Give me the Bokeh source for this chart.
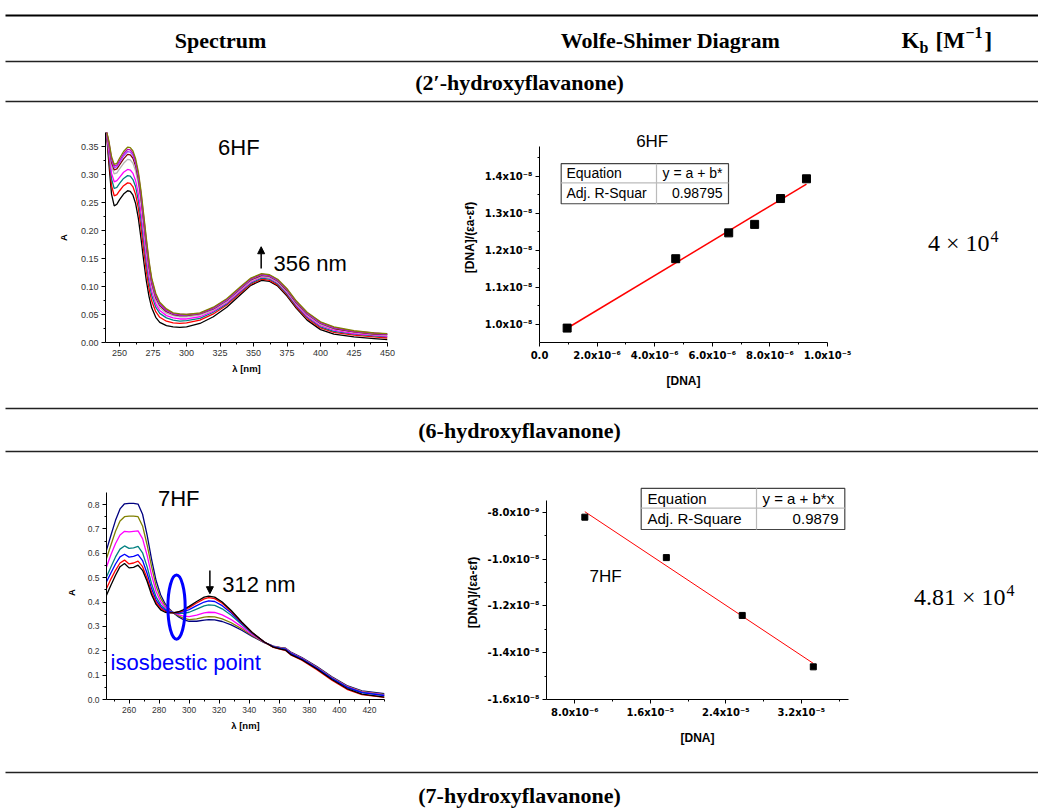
import numpy as np
from bokeh.plotting import figure
from bokeh.layouts import column, row
from bokeh.models import Range1d, FixedTicker, CustomJSTickFormatter, NumeralTickFormatter, Arrow, NormalHead
from bokeh.core.properties import value
from bokeh.embed import file_html
from bokeh.resources import INLINE

SANS = "Liberation Sans"
SERIF = "Liberation Serif"
TICKSANS = "DejaVu Sans"

# ---------------- data ----------------
col_headers = ["Spectrum", "Wolfe-Shimer Diagram"]
kb_header = ["K", "b", "[M", "\u22121", "]"]
compound_labels = ["(2\u2032-hydroxyflavanone)", "(6-hydroxyflavanone)", "(7-hydroxyflavanone)"]
kb_mantissa = ["4 \u00d7 10", "4.81 \u00d7 10"]
kb_exponent = ["4", "4"]

# 6HF UV-Vis titration spectra (absorbance vs wavelength)
wl_6hf = [240, 242, 244, 246, 248, 250, 253, 256, 258, 260, 262, 264, 266, 268, 270, 272, 274, 277, 280,
          285, 290, 295, 300, 310, 320, 330, 340, 348, 356, 362, 368, 375, 382, 390, 400, 410, 425, 440, 450]
a6_black = [0.380, 0.320, 0.265, 0.244, 0.247, 0.255, 0.265, 0.271, 0.270, 0.263, 0.248, 0.222, 0.186, 0.146, 0.110, 0.082, 0.062, 0.045, 0.036,
            0.030, 0.028, 0.027, 0.028, 0.034, 0.046, 0.063, 0.085, 0.102, 0.111, 0.109, 0.101, 0.083, 0.061, 0.040, 0.023, 0.015, 0.010, 0.007, 0.005]
a6_red = [0.380, 0.330, 0.280, 0.262, 0.264, 0.271, 0.280, 0.285, 0.284, 0.278, 0.264, 0.240, 0.205, 0.165, 0.127, 0.096, 0.074, 0.055, 0.045,
          0.038, 0.035, 0.034, 0.035, 0.040, 0.051, 0.067, 0.088, 0.104, 0.113, 0.111, 0.103, 0.085, 0.063, 0.043, 0.026, 0.018, 0.013, 0.010, 0.008]
a6_teal = [0.380, 0.336, 0.292, 0.275, 0.277, 0.284, 0.293, 0.298, 0.297, 0.291, 0.278, 0.254, 0.220, 0.180, 0.141, 0.108, 0.084, 0.063, 0.052,
           0.044, 0.040, 0.038, 0.039, 0.043, 0.054, 0.069, 0.090, 0.106, 0.115, 0.113, 0.105, 0.087, 0.065, 0.045, 0.028, 0.020, 0.015, 0.012, 0.010]
a6_magenta = [0.380, 0.342, 0.302, 0.287, 0.289, 0.295, 0.304, 0.309, 0.308, 0.302, 0.289, 0.266, 0.232, 0.192, 0.152, 0.117, 0.092, 0.069, 0.057,
              0.048, 0.044, 0.042, 0.042, 0.046, 0.056, 0.071, 0.092, 0.108, 0.117, 0.115, 0.107, 0.089, 0.067, 0.047, 0.030, 0.022, 0.016, 0.013, 0.011]
a6_gray = [0.380, 0.350, 0.315, 0.301, 0.303, 0.310, 0.320, 0.327, 0.326, 0.320, 0.306, 0.283, 0.249, 0.207, 0.165, 0.128, 0.100, 0.075, 0.062,
           0.052, 0.048, 0.046, 0.046, 0.049, 0.058, 0.073, 0.094, 0.110, 0.118, 0.116, 0.108, 0.091, 0.069, 0.049, 0.032, 0.024, 0.018, 0.014, 0.013]
a6_wine = [0.380, 0.354, 0.322, 0.308, 0.310, 0.317, 0.328, 0.336, 0.335, 0.329, 0.315, 0.292, 0.258, 0.216, 0.173, 0.135, 0.106, 0.080, 0.066,
           0.055, 0.050, 0.048, 0.048, 0.051, 0.060, 0.075, 0.096, 0.112, 0.120, 0.118, 0.110, 0.093, 0.071, 0.051, 0.034, 0.025, 0.019, 0.015, 0.014]
a6_violet = [0.380, 0.356, 0.326, 0.312, 0.314, 0.321, 0.333, 0.341, 0.340, 0.334, 0.320, 0.297, 0.263, 0.221, 0.178, 0.139, 0.109, 0.083, 0.068,
             0.057, 0.051, 0.049, 0.049, 0.052, 0.061, 0.076, 0.097, 0.113, 0.121, 0.119, 0.111, 0.094, 0.072, 0.052, 0.035, 0.026, 0.020, 0.016, 0.015]
a6_purple = [0.380, 0.358, 0.329, 0.315, 0.317, 0.325, 0.337, 0.345, 0.344, 0.338, 0.324, 0.301, 0.267, 0.225, 0.182, 0.142, 0.112, 0.085, 0.070,
             0.058, 0.052, 0.050, 0.050, 0.052, 0.062, 0.077, 0.098, 0.114, 0.122, 0.120, 0.112, 0.095, 0.073, 0.053, 0.036, 0.027, 0.020, 0.017, 0.015]
a6_olive = [0.380, 0.360, 0.332, 0.318, 0.320, 0.329, 0.341, 0.349, 0.348, 0.342, 0.328, 0.305, 0.271, 0.229, 0.186, 0.146, 0.115, 0.088, 0.072,
            0.060, 0.053, 0.051, 0.050, 0.053, 0.063, 0.078, 0.099, 0.115, 0.123, 0.121, 0.113, 0.096, 0.074, 0.054, 0.037, 0.028, 0.021, 0.017, 0.016]
colors_6hf = ["#000000", "#ff0000", "#008080", "#ff00ff", "#b4b4b4", "#800000", "#a040ff", "#c000c0", "#808000"]

# 7HF UV-Vis titration spectra
wl_7hf = [245, 248, 251, 254, 257, 260, 263, 266, 269, 272, 275, 278, 281, 284, 287, 290, 293, 296, 300, 305,
          310, 313, 317, 322, 328, 335, 342, 350, 356, 361, 364, 368, 375, 385, 395, 405, 415, 430]
a7_black = [0.428, 0.470, 0.510, 0.545, 0.558, 0.540, 0.542, 0.551, 0.530, 0.485, 0.430, 0.390, 0.368, 0.358, 0.355, 0.356, 0.360, 0.368, 0.382, 0.402,
            0.420, 0.424, 0.420, 0.400, 0.365, 0.318, 0.275, 0.236, 0.215, 0.207, 0.203, 0.183, 0.163, 0.125, 0.082, 0.045, 0.022, 0.010]
a7_red = [0.455, 0.495, 0.530, 0.560, 0.572, 0.556, 0.560, 0.568, 0.545, 0.498, 0.440, 0.398, 0.374, 0.362, 0.357, 0.356, 0.358, 0.365, 0.377, 0.396,
          0.413, 0.418, 0.414, 0.395, 0.361, 0.316, 0.274, 0.236, 0.214, 0.206, 0.202, 0.182, 0.161, 0.122, 0.079, 0.042, 0.020, 0.009]
a7_blue = [0.483, 0.520, 0.556, 0.585, 0.596, 0.584, 0.587, 0.594, 0.570, 0.518, 0.455, 0.408, 0.381, 0.366, 0.359, 0.356, 0.356, 0.360, 0.369, 0.385,
           0.400, 0.405, 0.402, 0.385, 0.355, 0.313, 0.273, 0.236, 0.216, 0.209, 0.206, 0.187, 0.166, 0.128, 0.086, 0.050, 0.028, 0.016]
a7_teal = [0.503, 0.545, 0.585, 0.617, 0.630, 0.620, 0.622, 0.628, 0.602, 0.545, 0.475, 0.421, 0.389, 0.371, 0.361, 0.356, 0.353, 0.353, 0.358, 0.371,
           0.384, 0.388, 0.386, 0.372, 0.346, 0.308, 0.271, 0.236, 0.217, 0.210, 0.207, 0.188, 0.167, 0.129, 0.087, 0.051, 0.029, 0.017]
a7_magenta = [0.544, 0.595, 0.640, 0.675, 0.690, 0.688, 0.690, 0.692, 0.660, 0.592, 0.510, 0.443, 0.402, 0.378, 0.364, 0.355, 0.348, 0.342, 0.340, 0.346,
              0.355, 0.358, 0.357, 0.347, 0.328, 0.298, 0.266, 0.235, 0.218, 0.211, 0.209, 0.190, 0.169, 0.131, 0.089, 0.053, 0.031, 0.019]
a7_olive = [0.578, 0.635, 0.690, 0.732, 0.750, 0.752, 0.752, 0.750, 0.712, 0.635, 0.545, 0.466, 0.416, 0.385, 0.367, 0.354, 0.343, 0.334, 0.328, 0.331,
            0.338, 0.340, 0.339, 0.331, 0.315, 0.290, 0.262, 0.234, 0.218, 0.212, 0.210, 0.191, 0.170, 0.133, 0.091, 0.055, 0.033, 0.021]
a7_navy = [0.613, 0.675, 0.735, 0.782, 0.803, 0.805, 0.805, 0.802, 0.760, 0.675, 0.575, 0.488, 0.430, 0.393, 0.370, 0.353, 0.339, 0.328, 0.321, 0.321,
           0.326, 0.328, 0.327, 0.320, 0.306, 0.284, 0.259, 0.233, 0.219, 0.213, 0.211, 0.193, 0.172, 0.135, 0.093, 0.057, 0.035, 0.024]
colors_7hf = ["#000080", "#808000", "#ff00ff", "#008080", "#0000ff", "#ff0000", "#000000"]

# Wolfe-Shimer points
dna_6hf = [0.96e-6, 4.73e-6, 6.57e-6, 7.47e-6, 8.37e-6, 9.27e-6]
ws_6hf = [0.989e-8, 1.177e-8, 1.247e-8, 1.270e-8, 1.340e-8, 1.3935e-8]
dna_7hf = [9.06e-6, 1.77e-5, 2.574e-5, 3.327e-5]
ws_7hf = [-0.8214e-8, -0.994e-8, -1.241e-8, -1.4605e-8]
fit_table_6hf = [["Equation", "y = a + b*"], ["Adj. R-Squar", "0.98795"]]
fit_table_7hf = [["Equation", "y = a + b*x"], ["Adj. R-Square", "0.9879"]]

# ticks
spec1_xticks = [250, 275, 300, 325, 350, 375, 400, 425, 450]
spec1_xminor = [262.5, 287.5, 312.5, 337.5, 362.5, 387.5, 412.5, 437.5]
spec1_yticks = [0.0, 0.05, 0.10, 0.15, 0.20, 0.25, 0.30, 0.35]
spec1_yminor = [0.025, 0.075, 0.125, 0.175, 0.225, 0.275, 0.325]
spec2_xticks = [260, 280, 300, 320, 340, 360, 380, 400, 420]
spec2_xminor = [250, 270, 290, 310, 330, 350, 370, 390, 410, 430]
spec2_yticks = [0.0, 0.1, 0.2, 0.3, 0.4, 0.5, 0.6, 0.7, 0.8]
spec2_yminor = [0.05, 0.15, 0.25, 0.35, 0.45, 0.55, 0.65, 0.75]
ws1_xticks = [0.0, 2e-6, 4e-6, 6e-6, 8e-6, 1e-5]
ws1_xminor = [1e-6, 3e-6, 5e-6, 7e-6, 9e-6]
ws1_yticks = [1.0e-8, 1.1e-8, 1.2e-8, 1.3e-8, 1.4e-8]
ws1_yminor = [1.05e-8, 1.15e-8, 1.25e-8, 1.35e-8, 1.45e-8]
ws2_xticks = [8e-6, 1.6e-5, 2.4e-5, 3.2e-5]
ws2_xminor = [1.2e-5, 2.0e-5, 2.8e-5, 3.6e-5]
ws2_yticks = [-1.6e-8, -1.4e-8, -1.2e-8, -1.0e-8, -0.8e-8]
ws2_yminor = [-1.5e-8, -1.3e-8, -1.1e-8, -0.9e-8]

RULE = "#222222"

SCI_JS = """
if (Math.abs(tick) < 1e-20) { return "0.0"; }
const e = Math.floor(Math.log10(Math.abs(tick)) + 1e-9);
const m = tick / Math.pow(10, e);
const sup = {"-": "\u207b", "0": "\u2070", "1": "\u00b9", "2": "\u00b2", "3": "\u00b3", "4": "\u2074",
             "5": "\u2075", "6": "\u2076", "7": "\u2077", "8": "\u2078", "9": "\u2079"};
const es = String(e).split("").map(c => sup[c]).join("");
return m.toFixed(1) + "x10" + es;
"""


def blank(w, h, yspan):
    p = figure(width=w, height=h, x_range=Range1d(0, w), y_range=Range1d(yspan, 0),
               output_backend="svg", toolbar_location=None, x_axis_type=None, y_axis_type=None,
               min_border=0)
    p.outline_line_color = None
    p.background_fill_color = "white"
    p.border_fill_color = "white"
    return p


def style_axes(p, tick_font, tick_size, tick_style, tick_color, label_size):
    for ax in (p.xaxis[0], p.yaxis[0]):
        ax.axis_line_color = "black"
        ax.axis_line_width = 1
        ax.major_tick_line_color = "black"
        ax.minor_tick_line_color = "black"
        ax.major_tick_out = 4
        ax.major_tick_in = 0
        ax.minor_tick_out = 2
        ax.minor_tick_in = 0
        ax.major_label_text_font = tick_font
        ax.major_label_text_font_size = tick_size
        ax.major_label_text_font_style = tick_style
        ax.major_label_text_color = tick_color
        ax.major_label_standoff = 3
        ax.axis_label_text_font = SANS
        ax.axis_label_text_font_style = "bold"
        ax.axis_label_text_font_size = label_size
        ax.axis_label_text_color = "black"
    p.grid.visible = False
    p.outline_line_color = None


def plot_fig(w, h, left, right, top, bottom, xr, yr):
    p = figure(width=w, height=h, x_range=Range1d(*xr), y_range=Range1d(*yr),
               output_backend="svg", toolbar_location=None,
               min_border_left=left, min_border_right=right, min_border_top=top, min_border_bottom=bottom)
    p.background_fill_color = "white"
    p.border_fill_color = "white"
    return p


def txt(p, x, y, s, size, font=SANS, align="left", baseline="middle", color="black", style="normal"):
    p.text(x=[x], y=[y], text=[s], text_font=value(font), text_font_size=size, text_align=align,
           text_baseline=baseline, text_color=color, text_font_style=style)


# ---------------- header ----------------
hdr = blank(1038, 104, 104)
hdr.segment(x0=[5], y0=[15], x1=[1038], y1=[15], line_color="black", line_width=2)
hdr.segment(x0=[5, 5], y0=[61, 101], x1=[1038, 1038], y1=[61, 101], line_color=RULE, line_width=1.3)
txt(hdr, 220, 40, col_headers[0], "22px", SERIF, "center", style="bold")
txt(hdr, 670, 40, col_headers[1], "22px", SERIF, "center", style="bold")
txt(hdr, 901, 40, kb_header[0], "23px", SERIF, "left", style="bold")
txt(hdr, 919, 47, kb_header[1], "16px", SERIF, "left", style="bold")
txt(hdr, 935, 40, kb_header[2], "23px", SERIF, "left", style="bold")
txt(hdr, 965, 32, kb_header[3], "16px", SERIF, "left", style="bold")
txt(hdr, 984, 40, kb_header[4], "23px", SERIF, "left", style="bold")
txt(hdr, 519, 82, compound_labels[0], "22px", SERIF, "center", style="bold")

# ---------------- 6HF spectrum ----------------
s1 = plot_fig(440, 301, 105, 53, 28, 63, (239.5, 450), (0, 0.375))
for ys, c in zip([a6_black, a6_red, a6_teal, a6_magenta, a6_gray, a6_wine, a6_violet, a6_purple, a6_olive], colors_6hf):
    s1.line(wl_6hf, ys, line_color=c, line_width=1.3)
style_axes(s1, SANS, "9px", "normal", "#333333", "9.5px")
s1.xaxis.ticker = FixedTicker(ticks=spec1_xticks, minor_ticks=spec1_xminor)
s1.yaxis.ticker = FixedTicker(ticks=spec1_yticks, minor_ticks=spec1_yminor)
s1.yaxis.formatter = NumeralTickFormatter(format="0.00")
s1.xaxis.axis_label = "\u03bb [nm]"
s1.yaxis.axis_label = "A"
s1.xaxis.axis_label_standoff = 4
s1.yaxis.axis_label_standoff = 9
txt(s1, 339.0, 0.3488, "6HF", "22px", SANS, "center")
txt(s1, 364.9, 0.1405, "356 nm", "22px", SANS, "left")
s1.add_layout(Arrow(end=NormalHead(size=7, fill_color="black", line_color="black"),
                    x_start=355.7, y_start=0.132, x_end=355.7, y_end=0.171, line_width=1.5))

# ---------------- 6HF Wolfe-Shimer ----------------
w1 = plot_fig(440, 301, 99, 53, 14, 58, (0, 1.0e-5), (0.95e-8, 1.5189e-8))
style_axes(w1, TICKSANS, "10px", "bold", "black", "12px")
w1.yaxis.bounds = (0.95e-8, 1.48e-8)
w1.xaxis.ticker = FixedTicker(ticks=ws1_xticks, minor_ticks=ws1_xminor)
w1.yaxis.ticker = FixedTicker(ticks=ws1_yticks, minor_ticks=ws1_yminor)
w1.xaxis.formatter = CustomJSTickFormatter(code=SCI_JS)
w1.yaxis.formatter = CustomJSTickFormatter(code=SCI_JS)
w1.xaxis.axis_label = "[DNA]"
w1.yaxis.axis_label = "[DNA]/(\u03b5a-\u03b5f)"
w1.xaxis.axis_label_standoff = 10
w1.yaxis.axis_label_standoff = 5
b1, a1 = np.polyfit(dna_6hf, ws_6hf, 1)
fx1 = np.array([min(dna_6hf), max(dna_6hf)])
w1.line(fx1, a1 + b1 * fx1, line_color="red", line_width=1.5)
w1.scatter(dna_6hf, ws_6hf, marker="square", size=8, fill_color="black", line_color="black")
txt(w1, 3.913e-6, 1.4941e-8, "6HF", "17px", SANS, "center")
w1.quad(left=[0.753e-6], right=[6.5625e-6], top=[1.4345e-8], bottom=[1.3259e-8],
        fill_color="white", line_color="#444444", line_width=1.2)
w1.segment(x0=[0.753e-6, 4.0625e-6], y0=[1.3823e-8, 1.4345e-8], x1=[6.5625e-6, 4.0625e-6], y1=[1.3823e-8, 1.3259e-8],
           line_color="#bbbbbb", line_width=1.2)
txt(w1, 0.9375e-6, 1.4084e-8, fit_table_6hf[0][0], "14px")
txt(w1, 4.271e-6, 1.4084e-8, fit_table_6hf[0][1], "14px")
txt(w1, 0.9375e-6, 1.354e-8, fit_table_6hf[1][0], "14px")
txt(w1, 6.354e-6, 1.354e-8, fit_table_6hf[1][1], "14px", align="right")

# ---------------- Kb row 1 ----------------
k1 = blank(158, 301, 301)
txt(k1, 109, 159, kb_mantissa[0], "24px", SERIF, "right", "alphabetic")
txt(k1, 110, 149, kb_exponent[0], "16px", SERIF, "left", "alphabetic")

# ---------------- middle band ----------------
mid = blank(1038, 50, 50)
mid.segment(x0=[5, 5], y0=[3, 46], x1=[1038, 1038], y1=[3, 46], line_color=RULE, line_width=1.3)
txt(mid, 519, 25, compound_labels[1], "22px", SERIF, "center", style="bold")

# ---------------- 7HF spectrum ----------------
s2 = plot_fig(440, 313, 106, 56, 30, 69, (245, 430), (0, 0.878))
for ys, c in zip([a7_navy, a7_olive, a7_magenta, a7_teal, a7_blue, a7_red, a7_black], colors_7hf):
    s2.line(wl_7hf, ys, line_color=c, line_width=1.3)
style_axes(s2, SANS, "8.5px", "normal", "#333333", "9.5px")
s2.yaxis.bounds = (0, 0.85)
s2.xaxis.ticker = FixedTicker(ticks=spec2_xticks, minor_ticks=spec2_xminor)
s2.yaxis.ticker = FixedTicker(ticks=spec2_yticks, minor_ticks=spec2_yminor)
s2.yaxis.formatter = NumeralTickFormatter(format="0.0")
s2.xaxis.axis_label = "\u03bb [nm]"
s2.yaxis.axis_label = "A"
s2.xaxis.axis_label_standoff = 4
s2.yaxis.axis_label_standoff = 8
txt(s2, 293.1, 0.825, "7HF", "22px", SANS, "center")
txt(s2, 322.0, 0.472, "312 nm", "22px", SANS, "left")
s2.add_layout(Arrow(end=NormalHead(size=7, fill_color="black", line_color="black"),
                    x_start=313.8, y_start=0.529, x_end=313.8, y_end=0.434, line_width=1.5))
s2.ellipse(x=[291.6], y=[0.379], width=11.5, height=0.263, fill_color=None, line_color="#0000ff", line_width=3)
txt(s2, 247.7, 0.153, "isosbestic point", "22px", SANS, "left", color="#0000ff")

# ---------------- 7HF Wolfe-Shimer ----------------
w2 = plot_fig(440, 313, 106, 32, 10, 60, (5e-6, 3.7e-5), (-1.6e-8, -0.6861e-8))
style_axes(w2, TICKSANS, "10px", "bold", "black", "12px")
w2.yaxis.bounds = (-1.6e-8, -0.75e-8)
w2.xaxis.ticker = FixedTicker(ticks=ws2_xticks, minor_ticks=ws2_xminor)
w2.yaxis.ticker = FixedTicker(ticks=ws2_yticks, minor_ticks=ws2_yminor)
w2.xaxis.formatter = CustomJSTickFormatter(code=SCI_JS)
w2.yaxis.formatter = CustomJSTickFormatter(code=SCI_JS)
w2.xaxis.axis_label = "[DNA]"
w2.yaxis.axis_label = "[DNA]/(\u03b5a-\u03b5f)"
w2.xaxis.axis_label_standoff = 10
w2.yaxis.axis_label_standoff = 5
b2, a2 = np.polyfit(dna_7hf, ws_7hf, 1)
fx2 = np.array([min(dna_7hf), max(dna_7hf)])
w2.line(fx2, a2 + b2 * fx2, line_color="red", line_width=1)
w2.scatter(dna_7hf, ws_7hf, marker="square", size=6, fill_color="black", line_color="black")
txt(w2, 1.125e-5, -1.0735e-8, "7HF", "17px", SANS, "center")
w2.quad(left=[1.5034e-5], right=[3.6608e-5], top=[-0.6985e-8], bottom=[-0.8741e-8],
        fill_color="white", line_color="#444444", line_width=1.2)
w2.segment(x0=[1.5034e-5, 2.7252e-5], y0=[-0.7827e-8, -0.6985e-8], x1=[3.6608e-5, 2.7252e-5], y1=[-0.7827e-8, -0.8741e-8],
           line_color="#bbbbbb", line_width=1.2)
txt(w2, 1.5702e-5, -0.7406e-8, fit_table_7hf[0][0], "15px")
txt(w2, 2.7887e-5, -0.7406e-8, fit_table_7hf[0][1], "15px")
txt(w2, 1.5702e-5, -0.8286e-8, fit_table_7hf[1][0], "15px")
txt(w2, 3.594e-5, -0.8286e-8, fit_table_7hf[1][1], "15px", align="right")

# ---------------- Kb row 2 ----------------
k2 = blank(158, 313, 313)
txt(k2, 125, 163, kb_mantissa[1], "24px", SERIF, "right", "alphabetic")
txt(k2, 126, 153, kb_exponent[1], "16px", SERIF, "left", "alphabetic")

# ---------------- footer ----------------
foot = blank(1038, 41, 41)
foot.segment(x0=[5], y0=[4], x1=[1038], y1=[4], line_color=RULE, line_width=1.3)
txt(foot, 519, 27, compound_labels[2], "22px", SERIF, "center", style="bold")

layout = column(hdr, row(s1, w1, k1), mid, row(s2, w2, k2), foot)
open("out.html", "w").write(file_html(layout, INLINE))
